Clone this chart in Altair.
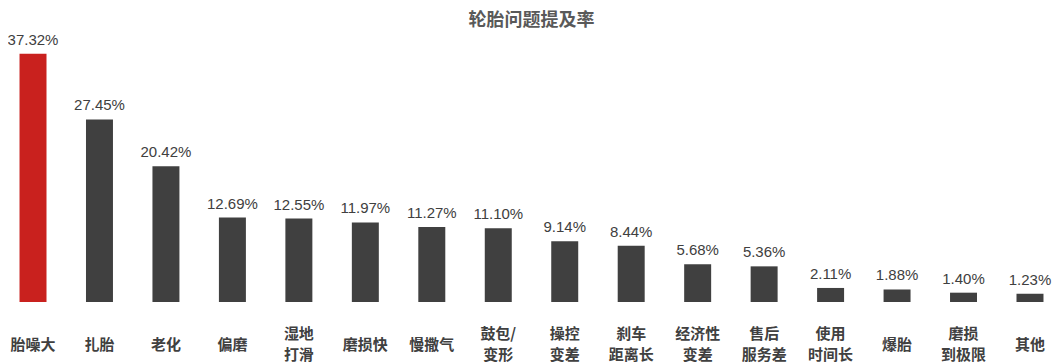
import altair as alt
import pandas as pd

categories = ["胎噪大", "扎胎", "老化", "偏磨", "湿地\n打滑", "磨损快", "慢撒气", "鼓包/\n变形",
              "操控\n变差", "刹车\n距离长", "经济性\n变差", "售后\n服务差", "使用\n时间长", "爆胎",
              "磨损\n到极限", "其他"]
values = [37.32, 27.45, 20.42, 12.69, 12.55, 11.97, 11.27, 11.10,
          9.14, 8.44, 5.68, 5.36, 2.11, 1.88, 1.40, 1.23]
highlight = ["胎噪大"]

df = pd.DataFrame({"category": categories, "value": values})

step = 66.47
pi = 0.594
po = 0.053
W = step * (16 - pi + 2 * po)
H = 266

x = alt.X("category:N", sort=None,
          scale=alt.Scale(paddingInner=pi, paddingOuter=po),
          axis=alt.Axis(title=None, ticks=False, domain=False, grid=False, labelAngle=0,
                        labelExpr="split(datum.label, '\\n')",
                        labelFont="Noto Sans CJK SC", labelFontWeight="bold",
                        labelFontSize=15, labelColor="#404040", labelBaseline="middle",
                        labelPadding={"condition": {"test": "indexof(datum.label, '\\n') >= 0",
                                                    "value": 32},
                                      "value": 43},
                        labelLineHeight=21))
y = alt.Y("value:Q", scale=alt.Scale(domain=[0, 40]), axis=None)

base = alt.Chart(df).encode(x=x, y=y)

bars = base.mark_bar().encode(
    color=alt.condition(alt.FieldOneOfPredicate(field="category", oneOf=highlight),
                        alt.value("#C9211E"), alt.value("#404040"))
)

labels = base.transform_calculate(
    label="format(datum.value, '.2f') + '%'"
).mark_text(baseline="bottom", dy=-6, font="Liberation Sans", fontSize=15,
            color="#404040").encode(text="label:N")

chart = (bars + labels).properties(
    width=W, height=H,
    title=alt.TitleParams("轮胎问题提及率", font="Noto Sans CJK SC", fontWeight="bold",
                          fontSize=18, color="#595959", anchor="middle", offset=3),
    autosize=alt.AutoSizeParams(type="none"),
    padding={"left": 8, "top": 28, "right": 8, "bottom": 66},
).configure_view(stroke=None)

chart.save("out.html", embed_options={"renderer": "svg", "actions": False})
